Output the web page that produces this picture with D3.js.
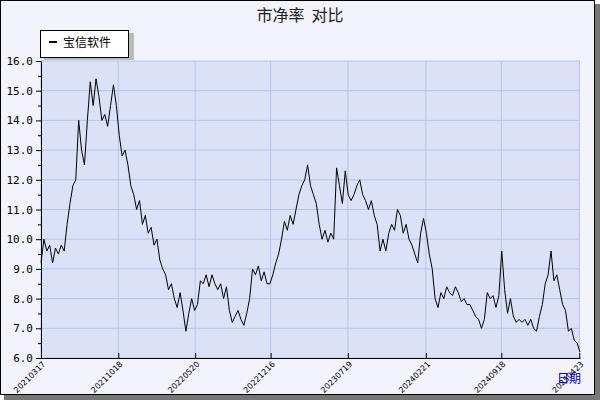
<!DOCTYPE html><html><head><meta charset="utf-8"><script src="https://cdn.jsdelivr.net/npm/d3@7"></script>
<style>body{margin:0;background:#fff}</style></head><body><svg id="c" width="600" height="400"></svg><script>
const title="市净率\u00a0\u00a0对比";
const seriesName="宝信软件";
const startDate="2021-03-17", endDate="2025-04-25";
const values=[9.2,10.0,9.6,9.8,9.2,9.7,9.5,9.8,9.6,10.5,11.2,11.8,12.0,14.0,13.0,12.5,14.0,15.3,14.5,15.4,14.8,14.0,14.2,13.8,14.5,15.2,14.5,13.5,12.8,13.0,12.5,11.8,11.5,11.0,11.3,10.5,10.8,10.2,10.4,9.8,10.0,9.3,9.0,8.8,8.3,8.5,8.0,7.7,8.2,7.6,6.9,7.5,8.0,7.6,7.8,8.6,8.5,8.8,8.4,8.8,8.5,8.3,8.5,8.0,8.4,7.6,7.2,7.4,7.6,7.3,7.1,7.5,8.0,9.0,8.8,9.1,8.6,8.9,8.5,8.5,8.8,9.2,9.5,10.0,10.6,10.3,10.8,10.5,11.0,11.5,11.8,12.0,12.5,11.8,11.5,11.2,10.5,10.0,10.3,9.9,10.2,10.0,12.4,11.8,11.2,12.3,11.5,11.3,11.5,11.8,12.0,11.5,11.3,11.0,11.3,10.8,10.5,9.6,10.0,9.6,10.2,10.5,10.3,11.0,10.8,10.2,10.5,10.0,9.8,9.5,9.2,10.2,10.7,10.2,9.5,9.0,8.0,7.7,8.2,8.0,8.4,8.2,8.1,8.4,8.2,7.9,8.0,7.8,7.8,7.6,7.4,7.3,7.0,7.3,8.2,8.0,8.1,7.7,8.1,9.6,8.3,7.5,8.0,7.4,7.2,7.3,7.2,7.3,7.1,7.3,7.0,6.9,7.4,7.8,8.5,8.8,9.6,8.6,8.8,8.3,7.8,7.6,6.9,7.0,6.6,6.5,6.2];
const tickDates=["20210317","20211018","20220520","20221216","20230719","20240221","20240918","20250423"];
const yTicks=[6,7,8,9,10,11,12,13,14,15,16];
const svg=d3.select("#c");
svg.append("rect").attr("x",0).attr("y",0).attr("width",600).attr("height",400).attr("fill","#fff");
svg.append("rect").attr("x",4).attr("y",4).attr("width",596).attr("height",396).attr("fill","#777");
svg.append("rect").attr("x",0.5).attr("y",0.5).attr("width",594).attr("height",394).attr("fill","#f2f3fb").attr("stroke","#000");
const pd=d3.timeParse("%Y-%m-%d"), pt=d3.timeParse("%Y%m%d");
const t0=pd(startDate),t1=pd(endDate);
const data=values.map((v,i)=>({d:new Date(+t0+(t1-t0)*i/(values.length-1)),v}));
const L=41,R=580,T=61,B=358;
const x=d3.scaleTime().domain([t0,t1]).range([L,R]);
const y=d3.scaleLinear().domain([6,16]).range([B,T]);
svg.append("rect").attr("x",L).attr("y",T).attr("width",R-L).attr("height",B-T).attr("fill","#dbe1f6");
const g=svg.append("g");
g.selectAll(".gy").data(yTicks).join("line").attr("x1",L).attr("x2",R).attr("y1",d=>y(d)).attr("y2",d=>y(d)).attr("stroke","#b8c4ea");
g.selectAll(".gx").data(tickDates).join("line").attr("x1",d=>x(pt(d))).attr("x2",d=>x(pt(d))).attr("y1",T).attr("y2",B).attr("stroke","#b8c4ea");
svg.append("path").datum(data).attr("fill","none").attr("stroke","#000").attr("stroke-width",1)
 .attr("d",d3.line().x(d=>x(d.d)).y(d=>y(d.v)));
const ya=svg.append("g").attr("transform",`translate(${L},0)`).call(d3.axisLeft(y).tickValues(yTicks).tickFormat(d3.format(".1f")).tickSize(5).tickSizeOuter(0));
ya.selectAll("text").attr("font-family","DejaVu Sans Mono").attr("font-size",11).attr("fill","#000");
ya.select(".domain").attr("stroke","#000");
svg.append("g").attr("transform",`translate(${L},0)`).call(d3.axisLeft(y).tickValues(d3.range(6.5,16,1)).tickFormat("").tickSize(3)).select(".domain").remove();
const xa=svg.append("g").attr("transform",`translate(0,${B})`).call(d3.axisBottom(x).tickValues(tickDates.map(pt)).tickFormat((d,i)=>tickDates[i]).tickSize(-5).tickSizeOuter(0));
xa.select(".domain").attr("stroke","#000");
xa.selectAll("text").attr("font-family","DejaVu Sans").attr("font-size",8).attr("fill","#000")
 .attr("text-anchor","end").attr("transform","rotate(-45)").attr("dx","-0.2em").attr("dy","0.6em");
svg.append("text").attr("x",300).attr("y",21).attr("text-anchor","middle").attr("font-family","Noto Sans CJK SC").attr("font-size",16).attr("fill","#222").text(title);
svg.append("rect").attr("x",44).attr("y",33).attr("width",90).attr("height",27).attr("fill","#bbb");
svg.append("rect").attr("x",40.5).attr("y",30.5).attr("width",88).attr("height",27).attr("fill","#fff").attr("stroke","#000");
svg.append("line").attr("x1",49).attr("x2",57).attr("y1",42).attr("y2",42).attr("stroke","#000").attr("stroke-width",2);
svg.append("text").attr("x",63).attr("y",47).attr("font-family","Noto Sans CJK SC").attr("font-size",12).text(seriesName);
svg.append("text").attr("x",557).attr("y",383).attr("font-family","Noto Sans CJK SC").attr("font-size",12).attr("fill","#0000cc").text("日期");
</script></body></html>
